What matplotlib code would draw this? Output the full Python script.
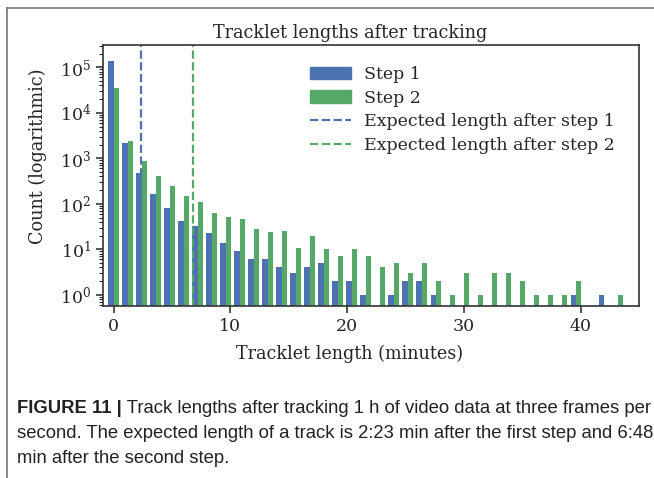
import numpy as np
import matplotlib
matplotlib.use("Agg")
import matplotlib.pyplot as plt
from matplotlib import font_manager
from matplotlib.patches import Patch
from matplotlib.lines import Line2D

# ── Data ──
bin_width = 1.2  # minutes
step1_counts = [140000, 2150, 470, 165, 83, 43, 33, 23, 14, 9, 6, 6, 4, 3, 4, 5,
                2, 2, 1, 0, 1, 2, 2, 1, 0, 0, 0, 0, 0, 0, 0, 0, 0, 1, 0, 1, 0]
step2_counts = [36000, 2400, 890, 412, 252, 150, 110, 63, 52, 46, 28, 24, 26, 11, 20, 10,
                7, 10, 7, 4, 5, 3, 5, 2, 1, 3, 1, 3, 3, 2, 1, 1, 1, 2, 0, 0, 1]
expected_step1 = 2 + 23 / 60   # 2:23 min
expected_step2 = 6 + 48 / 60   # 6:48 min
x_ticks = [0, 10, 20, 30, 40]

caption_bold = "FIGURE 11 |"
caption_lines = [
    " Track lengths after tracking 1 h of video data at three frames per",
    "second. The expected length of a track is 2:23 min after the first step and 6:48",
    "min after the second step.",
]

BLUE = "#4C72B0"
GREEN = "#55A868"
TXT = "#262626"

plt.rcParams.update({
    "font.family": "DejaVu Serif",
    "font.size": 12,
    "text.color": TXT,
    "axes.labelcolor": TXT,
    "xtick.color": TXT,
    "ytick.color": TXT,
    "axes.edgecolor": "#333333",
    "axes.linewidth": 1.2,
    "xtick.major.size": 5,
    "ytick.major.size": 5,
    "ytick.minor.size": 3,
    "xtick.major.width": 1.1,
    "ytick.major.width": 1.1,
    "ytick.minor.width": 0.8,
})

fig = plt.figure(figsize=(6.54, 4.78), dpi=100)
W, H = 654, 478
ax = fig.add_axes([102.7 / W, 1 - 306 / H, (639 - 102.7) / W, (306 - 45) / H])

centers = np.arange(len(step1_counts)) * bin_width
w = 0.46
s1 = np.array(step1_counts, dtype=float)
s2 = np.array(step2_counts, dtype=float)
m1 = s1 > 0
m2 = s2 > 0
ax.bar(centers[m1] - w, s1[m1], width=w, align="edge", color=BLUE, linewidth=0)
ax.bar(centers[m2], s2[m2], width=w, align="edge", color=GREEN, linewidth=0)
ax.axvline(expected_step1, color=BLUE, linestyle="--", linewidth=1.6)
ax.axvline(expected_step2, color=GREEN, linestyle="--", linewidth=1.6)

ax.set_yscale("log")
ax.set_ylim(0.57, 3.1e5)
ax.set_xlim(-0.94, 45.0)
ax.set_xticks(x_ticks)
ax.tick_params(axis="both", labelsize=12.5)

ax.set_title("Tracklet lengths after tracking", fontsize=12.7, x=0.461, pad=5)
ax.set_xlabel("Tracklet length (minutes)", fontsize=12.7)
ax.xaxis.set_label_coords(0.461, -0.149)
ax.set_ylabel("Count (logarithmic)", fontsize=12.7)
ax.yaxis.set_label_coords(-0.104, 0.575)

handles = [
    Patch(color=BLUE, label="Step 1"),
    Patch(color=GREEN, label="Step 2"),
    Line2D([], [], color=BLUE, linestyle="--", linewidth=1.6, label="Expected length after step 1"),
    Line2D([], [], color=GREEN, linestyle="--", linewidth=1.6, label="Expected length after step 2"),
]
ax.legend(handles=handles, loc="upper right", frameon=False, fontsize=12.5,
          labelspacing=0.39, handlelength=2.4, handletextpad=0.75,
          bbox_to_anchor=(0.985, 0.98))

# ── caption and frame ──
fig.add_artist(Line2D([7 / W, 7 / W], [0, 1 - 8 / H], transform=fig.transFigure,
                      color="#777777", linewidth=1.2))
fig.add_artist(Line2D([7 / W, 1], [1 - 8 / H, 1 - 8 / H], transform=fig.transFigure,
                      color="#777777", linewidth=1.2))

names = {f.name for f in font_manager.fontManager.ttflist}
cap_font = "Liberation Sans Narrow" if "Liberation Sans Narrow" in names else "Liberation Sans"

x0 = 17 / W
y_lines = [1 - 413 / H, 1 - 438 / H, 1 - 463 / H]
size = 13
bold = fig.text(x0, y_lines[0], caption_bold, fontsize=size, fontweight="bold",
                family=cap_font, color="#222222", va="baseline")
renderer = fig.canvas.get_renderer()
rest = fig.text(x0, y_lines[0], caption_lines[0], fontsize=size, family=cap_font,
                color="#222222", va="baseline")
tot = bold.get_window_extent(renderer).width + rest.get_window_extent(renderer).width
size = size * 635 / tot
bold.set_fontsize(size)
rest.set_fontsize(size)
bw = bold.get_window_extent(renderer).width
rest.set_x(x0 + bw / W)
for line, y in zip(caption_lines[1:], y_lines[1:]):
    fig.text(x0, y, line, fontsize=size, family=cap_font, color="#222222", va="baseline")

fig.savefig("out.png", dpi=100)
